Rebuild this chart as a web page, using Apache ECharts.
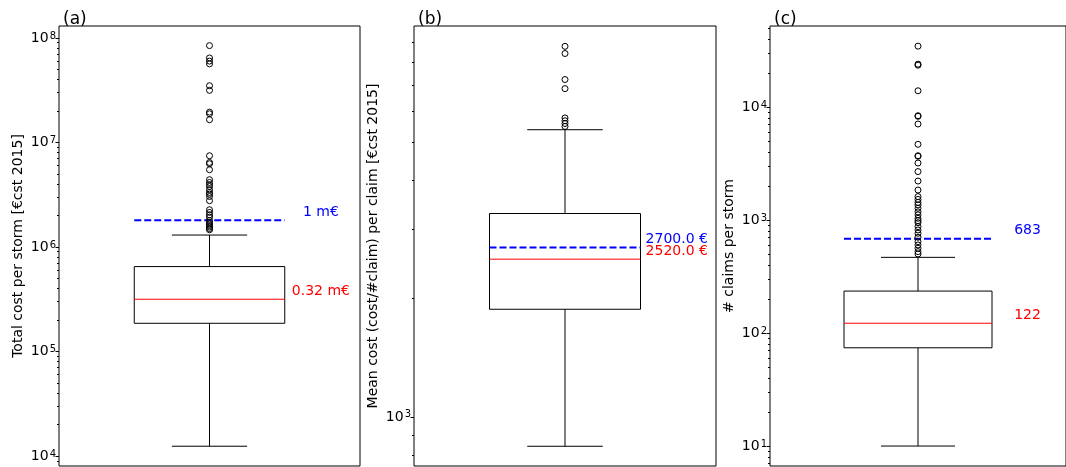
<!DOCTYPE html>
<html lang="en" style="height: 100%">
<head>
  <meta charset="UTF-8">
  <title>storm cost boxplots</title>
  <script src="https://cdn.jsdelivr.net/npm/echarts@6/dist/echarts.min.js"></script>
</head>
<body style="height: 100%; margin: 0; background: #fff">
<div id="container" style="width: 1066px; height: 467px"></div>

<script type="text/javascript">
  // panel titles and y axis names
  var panelTitles = ['(a)', '(b)', '(c)'];
  var axisNames = [
    'Total cost per storm [€cst 2015]',
    'Mean cost (cost/#claim) per claim [€cst 2015]',
    '# claims per storm'
  ];

  // box stats: [lower whisker, q1, median, q3, upper whisker]
  var statsA = [12400, 186000, 316000, 649000, 1300000];
  var statsB = [842, 1879, 2520, 3293, 5380];
  var statsC = [10, 74, 122, 235, 467];

  // mean values (dashed line)
  var meanA = 1800000;
  var meanB = 2700;
  var meanC = 683;

  // text next to the lines
  var meanLabels = ['1 m€', '2700.0 €', '683'];
  var medianLabels = ['0.32 m€', '2520.0 €', '122'];

  // outliers (fliers)
  var outliersA = [84400000, 64300000, 60000000, 56400000, 34900000, 31500000, 19500000, 18800000,
    16500000, 7460000, 6430000, 6250000, 5480000, 4400000, 4140000, 3950000, 3790000, 3530000,
    3320000, 3200000, 3040000, 2770000, 2270000, 2140000, 2030000, 1930000, 1790000, 1720000,
    1660000, 1600000, 1550000, 1500000, 1460000];
  var outliersB = [8770, 8410, 7220, 6845, 5765, 5670, 5580, 5485];
  var outliersC = [34500, 23900, 23400, 13900, 8360, 8260, 7060, 4670, 3700, 3660, 3190, 2680,
    2210, 1840, 1610, 1520, 1430, 1360, 1270, 1180, 1110, 1035, 986, 946, 873, 816, 763, 703,
    643, 601, 562, 525, 500];

  // y axis ranges and major ticks
  var yMin = [8020, 750, 6.66];
  var yMax = [130000000, 9880, 52000];
  var majorTicksA = [10000, 100000, 1000000, 10000000, 100000000];
  var majorTicksB = [1000];
  var majorTicksC = [10, 100, 1000, 10000];

  var font = 'DejaVu Sans';
  var stats = [statsA, statsB, statsC];
  var means = [meanA, meanB, meanC];
  var outliers = [outliersA, outliersB, outliersC];
  var majorTicks = [majorTicksA, majorTicksB, majorTicksC];
  var gridLeft = [59, 414, 770];
  var gridWidth = [301, 302, 300];

  function minorTicks(lo, hi) {
    var out = [];
    for (var p = Math.floor(Math.log10(lo)); p <= Math.ceil(Math.log10(hi)); p++) {
      for (var k = 2; k <= 9; k++) {
        var v = k * Math.pow(10, p);
        if (v >= lo && v <= hi) out.push(v);
      }
    }
    return out;
  }

  function renderBox(params, api) {
    var lo = api.value(1), q1 = api.value(2), med = api.value(3),
        q3 = api.value(4), hi = api.value(5), mean = api.value(6);
    var i = params.seriesIndex / 2;
    var p = function (x, y) { return api.coord([x, y]); };
    var black = { stroke: '#000', lineWidth: 1 };
    function line(a, b, style) {
      return { type: 'line', shape: { x1: a[0], y1: a[1], x2: b[0], y2: b[1] }, style: style };
    }
    var tl = p(0.75, q3), br = p(1.25, q1);
    return {
      type: 'group',
      children: [
        line(p(1, lo), p(1, q1), black),
        line(p(1, q3), p(1, hi), black),
        line(p(0.875, lo), p(1.125, lo), black),
        line(p(0.875, hi), p(1.125, hi), black),
        { type: 'rect', shape: { x: tl[0], y: tl[1], width: br[0] - tl[0], height: br[1] - tl[1] },
          style: { fill: 'none', stroke: '#000', lineWidth: 1 } },
        line(p(0.75, med), p(1.25, med), { stroke: '#ff0000', lineWidth: 1 }),
        line(p(0.75, mean), p(1.25, mean), { stroke: '#0000ff', lineWidth: 2, lineDash: [7, 3] }),
        { type: 'text', x: p(1.37, mean)[0], y: p(1.37, mean)[1] - 1,
          style: { text: meanLabels[i], fill: '#0000ff', font: '14px "' + font + '"',
            align: 'center', verticalAlign: 'bottom' } },
        { type: 'text', x: p(1.37, med)[0], y: p(1.37, med)[1] - 1,
          style: { text: medianLabels[i], fill: '#ff0000', font: '14px "' + font + '"',
            align: 'center', verticalAlign: 'bottom' } }
      ]
    };
  }

  var grids = [], xAxes = [], yAxes = [], series = [], titles = [];
  for (var i = 0; i < 3; i++) {
    grids.push({
      left: gridLeft[i], width: gridWidth[i], top: 26, height: 440,
      show: true, borderColor: '#000', borderWidth: 1, backgroundColor: 'transparent'
    });
    titles.push({
      text: panelTitles[i], left: gridLeft[i] - 1, top: 6,
      textStyle: { fontFamily: font, fontSize: 17, fontWeight: 'normal', color: '#000' }
    });
    xAxes.push({ type: 'value', gridIndex: i, min: 0.5, max: 1.5, show: false });
    yAxes.push({
      type: 'log', gridIndex: i, position: 'left', min: yMin[i], max: yMax[i],
      name: axisNames[i], nameLocation: 'middle', nameGap: 34,
      nameTextStyle: { fontFamily: font, fontSize: 14, color: '#000' },
      axisLine: { show: false },
      axisTick: { show: true, customValues: majorTicks[i], length: 3.5, lineStyle: { color: '#000' } },
      axisLabel: {
        customValues: majorTicks[i], margin: 3, color: '#000', fontFamily: font, fontSize: 14,
        formatter: function (v) { return '10{e|' + Math.round(Math.log10(v)) + '}'; },
        rich: { e: { fontFamily: font, fontSize: 10, color: '#000', verticalAlign: 'top', padding: [0, 0, 4, 1] } }
      },
      splitLine: { show: false }
    });
    yAxes.push({
      type: 'log', gridIndex: i, position: 'left', min: yMin[i], max: yMax[i],
      axisLine: { show: false },
      axisTick: { show: true, customValues: minorTicks(yMin[i], yMax[i]), length: 2, lineStyle: { color: '#000' } },
      axisLabel: { show: false },
      splitLine: { show: false }
    });
    var s = stats[i];
    series.push({
      type: 'custom',
      xAxisIndex: i,
      yAxisIndex: i * 2,
      renderItem: renderBox,
      encode: { x: 0, y: [1, 2, 3, 4, 5, 6] },
      data: [[1, s[0], s[1], s[2], s[3], s[4], means[i]]],
      silent: true,
      z: 2
    });
    series.push({
      type: 'scatter',
      xAxisIndex: i,
      yAxisIndex: i * 2,
      symbol: 'circle',
      symbolSize: 6,
      itemStyle: { color: 'rgba(0,0,0,0)', borderColor: '#000', borderWidth: 1, opacity: 1 },
      data: outliers[i].map(function (v) { return [1, v]; }),
      silent: true,
      z: 3
    });
  }

  var dom = document.getElementById('container');
  var myChart = echarts.init(dom, null, { renderer: 'canvas' });
  var option = {
    backgroundColor: '#fff',
    animation: false,
    title: titles,
    grid: grids,
    xAxis: xAxes,
    yAxis: yAxes,
    series: series
  };
  myChart.setOption(option);
</script>
</body>
</html>
